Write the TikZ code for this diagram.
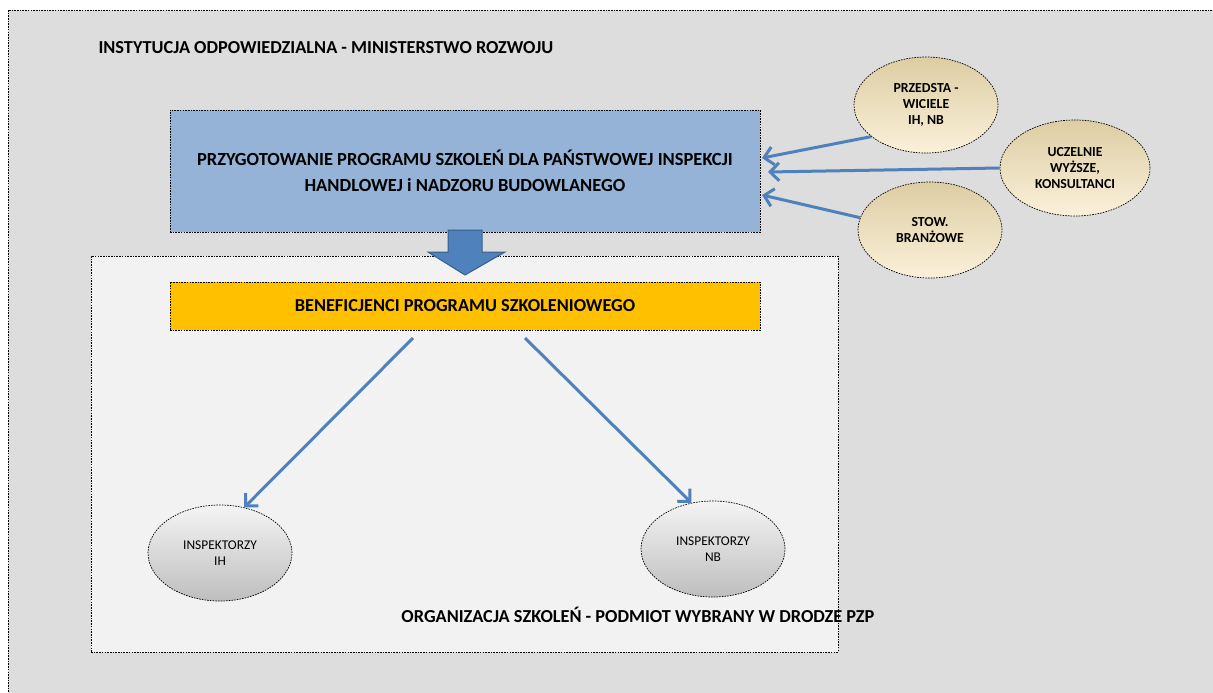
\documentclass[tikz,border=0pt]{standalone}
\usepackage{fontspec}
\setmainfont{Carlito}
\usetikzlibrary{shapes.geometric,arrows.meta,calc}
\definecolor{outerbg}{HTML}{DDDDDD}
\definecolor{innerbg}{HTML}{F2F2F2}
\definecolor{boxblue}{HTML}{95B3D7}
\definecolor{boxorange}{HTML}{FFC000}
\definecolor{arrowblue}{HTML}{4F81BD}
\definecolor{arrowedge}{HTML}{385D8A}
\definecolor{tantop}{HTML}{DCCDA3}
\definecolor{tanbot}{HTML}{FBF1DA}
\definecolor{graytop}{HTML}{F4F4F4}
\definecolor{graybot}{HTML}{BEBEBE}
\tikzset{
  dashbox/.style={draw=black, line width=0.7pt, dash pattern=on 1.6pt off 1.1pt},
  srcell/.style={ellipse, dashbox, top color=tantop, bottom color=tanbot,
     minimum width=144pt, minimum height=96pt, inner sep=0pt, align=center,
     font=\fontsize{13.8}{16}\selectfont\bfseries},
  inspell/.style={ellipse, dashbox, top color=graytop, bottom color=graybot,
     minimum width=144pt, minimum height=96pt, inner sep=0pt, align=center,
     font=\fontsize{13.4}{16}\selectfont},
  conn/.style={draw=arrowblue, line width=3pt,
     -{Straight Barb[length=9pt,width=18pt,line width=3pt]}},
  bigtxt/.style={font=\fontsize{18.5}{26}\selectfont\bfseries, align=center},
  headtxt/.style={font=\fontsize{18.3}{20}\selectfont\bfseries}
}
\begin{document}
\begin{tikzpicture}[x=1pt,y=-1pt]
\useasboundingbox (0,0) rectangle (1213,693);
% outer frame
\path[dashbox, fill=outerbg] (8,10) rectangle (1216,700);
\node[anchor=west, headtxt] (title) at (95,48)
  {INSTYTUCJA ODPOWIEDZIALNA - MINISTERSTWO ROZWOJU};
% inner frame
\node[dashbox, fill=innerbg, minimum width=747pt, minimum height=396pt, inner sep=0pt] (inner) at (464.5,454) {};
% blue box
\node[dashbox, fill=boxblue, minimum width=590pt, minimum height=122pt, inner sep=0pt, bigtxt] (prog) at (465,171)
  {PRZYGOTOWANIE PROGRAMU SZKOLEŃ DLA PAŃSTWOWEJ INSPEKCJI\\HANDLOWEJ i NADZORU BUDOWLANEGO};
% big down arrow
\path[fill=arrowblue, draw=arrowedge, line width=1pt, line join=miter]
  (448,230) -- (482,230) -- (482,252) -- (505,252) -- (465,275) -- (428,252) -- (448,252) -- cycle;
% orange box
\node[dashbox, fill=boxorange, minimum width=590pt, minimum height=48pt, inner sep=0pt,
  headtxt] (benef) at (465,306)
  {BENEFICJENCI PROGRAMU SZKOLENIOWEGO};
% source ellipses
\node[srcell] (e1) at (926,105) {PRZEDSTA -\\WICIELE\\IH, NB};
\node[srcell, minimum width=150pt] (e2) at (1075,168) {UCZELNIE\\WYŻSZE,\\KONSULTANCI};
\node[srcell] (e3) at (930,230) {STOW.\\BRANŻOWE};
% inspector ellipses
\node[inspell] (ih) at (220,553) {INSPEKTORZY\\IH};
\node[inspell] (nb) at (713,549) {INSPEKTORZY\\NB};
% bottom label
\node[anchor=east, headtxt] (org) at (878,615)
  {ORGANIZACJA SZKOLEŃ - PODMIOT WYBRANY W DRODZE PZP};
% connectors
\coordinate (t1) at (762,158);
\coordinate (t2) at (768,172);
\coordinate (t3) at (762,195);
\draw[conn] (e1.210) -- (t1);
\draw[conn] (e2.west) -- (t2);
\draw[conn] (e3.170) -- (t3);
\coordinate (s1) at (413,338);
\coordinate (s2) at (525,338);
\draw[conn] (s1) -- (ih.62);
\draw[conn] (s2) -- (nb.115);
\end{tikzpicture}
\end{document}
